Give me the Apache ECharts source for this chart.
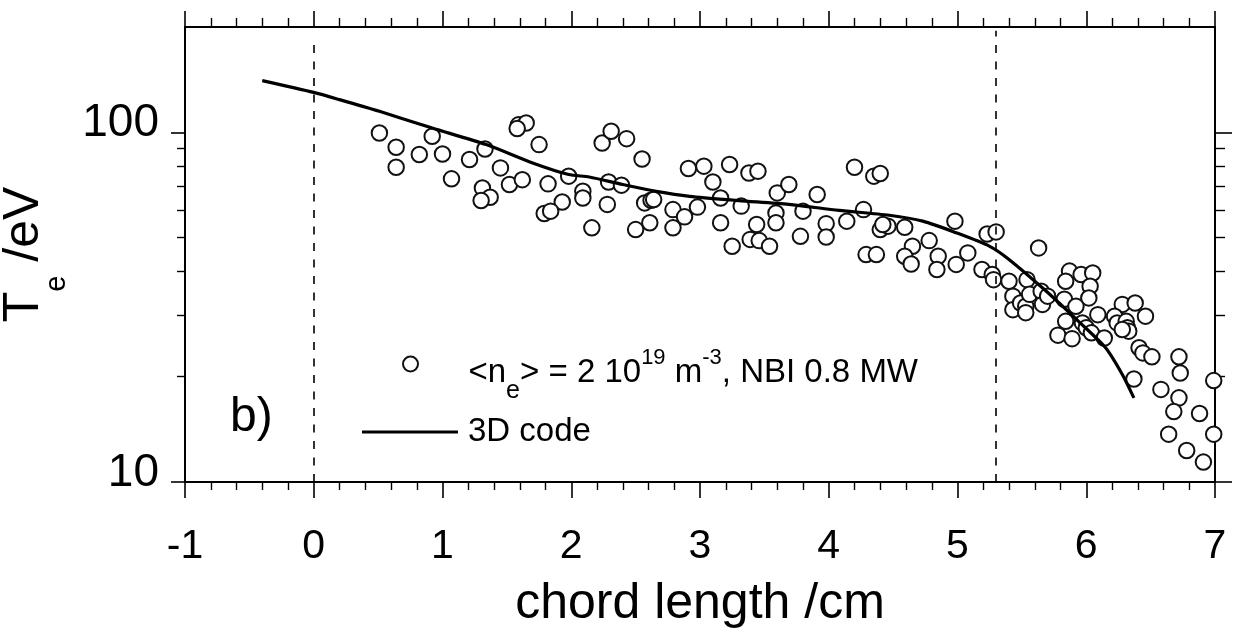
<!DOCTYPE html>
<html><head><meta charset="utf-8">
<script src="https://cdn.jsdelivr.net/npm/echarts@6/dist/echarts.min.js"></script>
<style>html,body{margin:0;padding:0;background:#fff}#c{width:1240px;height:643px}</style>
</head><body><div id="c"></div>
<script>
// ---- data ----
const xTickValues = [-1, 0, 1, 2, 3, 4, 5, 6, 7];
const yMajorTicks = [10, 100];
const yMinorTicks = [20, 30, 40, 50, 60, 70, 80, 90];
const measX = [0.51,0.64,0.64,0.82,0.92,1.00,1.07,1.21,1.33,1.45,1.31,1.37,1.30,1.52,1.62,1.59,1.65,1.58,1.75,1.82,1.98,1.93,1.79,1.84,2.09,2.09,2.16,
 2.24,2.31,2.43,2.55,2.29,2.39,2.28,2.57,2.62,2.64,2.50,2.61,2.79,2.79,2.88,2.91,3.03,3.10,2.98,3.16,3.16,3.23,3.25,3.32,3.38,3.45,3.60,3.69,3.59,3.59,3.44,3.39,3.46,3.54,3.78,3.80,3.91,3.98,3.98,4.14,4.20,4.27,4.35,4.40,4.40,4.46,4.42,4.29,4.37,4.59,4.65,4.59,4.64,4.78,4.85,4.84,4.98,4.99,5.08,5.23,5.30,5.19,5.27,5.28,
 5.40,5.54,5.63,5.43,5.43,5.49,5.53,5.53,5.56,5.65,5.66,5.70,5.87,5.84,5.96,6.05,6.03,6.02,5.83,5.92,5.84,5.78,5.89,5.97,6.00,6.04,6.09,6.14,6.28,6.22,6.24,6.31,6.32,6.33,6.38,6.46,6.28,6.41,6.44,6.51,6.37,6.58,6.72,6.73,6.72,6.68,6.64,6.78,6.88,6.91,6.99,6.99];
const measY = [99.5,90.6,79.4,86.4,97.4,86.7,73.6,83.6,89.6,79.1,69.3,65.2,63.8,70.9,73.2,105,106.3,102.5,92.2,71.2,74.9,63.2,58.6,59.5,67.8,64.9,53.3,
 93.2,100.7,95.9,83.9,72.1,70.6,62.2,62.8,63.9,64.2,52.7,55.1,60.1,53.3,57.3,78.8,80.0,72.1,61.1,64.9,55.1,80.9,47.2,61.5,76.5,77.4,67.1,70.9,58.8,55.1,54.5,49.4,49.0,47.2,50.4,59.5,66.4,54.8,50.2,55.7,79.4,60.1,74.9,76.2,52.7,53.9,54.5,44.7,44.7,53.5,47.2,44.2,42.0,49.0,44.2,40.5,55.7,41.9,45.2,51.2,51.9,40.5,39.2,37.9,
 37.5,37.9,46.7,34.0,31.1,32.5,31.8,30.5,34.4,35.1,32.2,34.0,40.1,37.5,39.2,39.6,36.3,33.6,33.3,31.8,28.8,26.3,25.7,28.5,27.6,26.7,30.1,25.8,32.2,29.8,28.5,28.8,27.6,27.0,32.5,29.8,27.3,24.2,23.4,22.8,19.7,18.4,22.8,20.5,17.4,15.9,13.7,12.3,15.7,11.4,19.5,13.7];
const codeX = [-0.40,0.00,0.20,0.51,0.92,1.34,1.70,1.98,2.14,2.40,2.66,2.92,3.30,3.69,4.08,4.47,4.73,4.99,5.25,5.40,5.69,5.94,6.15,6.28,6.37];
const codeY = [140.5,130,124,114.8,102.8,92.2,81.7,75.7,74.5,70.9,67.8,65.6,63.8,62.2,59.8,57.9,55.7,51.6,47.2,43.3,35.1,28.8,24.2,20.3,17.4];
const dashedX = [0, 5.3];
const dashedTop = [185, 195];

const FONT = 'Liberation Sans, Arial, Helvetica, sans-serif';
const measData = measX.map((x, i) => [x, measY[i]]);
const codeData = codeX.map((x, i) => [x, codeY[i]]);

const chart = echarts.init(document.getElementById('c'), null, {renderer: 'canvas'});

const xBase = {
  type: 'value', min: -1, max: 7, interval: 1,
  axisLine: {show: true, onZero: false, lineStyle: {color: '#000', width: 2}},
  splitLine: {show: false},
  minorSplitLine: {show: false}
};
const yBase = {
  type: 'log', logBase: 10, min: 10, max: 200,
  splitLine: {show: false}, minorSplitLine: {show: false}
};

chart.setOption({
  animation: false,
  backgroundColor: '#fff',
  textStyle: {fontFamily: FONT, color: '#000'},
  grid: {left: 185, right: 25, top: 27, bottom: 161, containLabel: false, outerBoundsMode: 'none'},
  title: {
    text: 'b)', left: 230, top: 394, padding: 0,
    textStyle: {fontFamily: FONT, fontSize: 48, fontWeight: 'normal', color: '#000'}
  },
  legend: [
    {
      data: [{name: 'meas', icon: 'emptyCircle'}], left: 402, top: 347, padding: 0,
      itemWidth: 106, itemHeight: 15, selectedMode: false,
      itemStyle: {color: '#111', borderColor: '#111', borderWidth: 1.5},
      formatter: () => '{m|<n}{s|e}{m|> = 2 10}{p|19}{m| m}{p|-3}{m|, NBI 0.8 MW}',
      textStyle: {
        fontFamily: FONT, color: '#000',
        rich: {
          m: {fontFamily: FONT, fontSize: 33, padding: [18, 0, 0, 0], color: '#000'},
          s: {fontFamily: FONT, fontSize: 25, padding: [54, 0, 0, 0], color: '#000'},
          p: {fontFamily: FONT, fontSize: 22, padding: [0, 0, 12, 0], color: '#000'}
        }
      }
    },
    {
      data: [{name: '3D code', icon: 'rect'}], left: 362, top: 415, padding: 0,
      itemWidth: 96, itemHeight: 3, selectedMode: false,
      itemStyle: {color: '#000', borderWidth: 0},
      textStyle: {fontFamily: FONT, fontSize: 33, lineHeight: 34, color: '#000', padding: [0, 0, 0, 5]}
    }
  ],
  xAxis: [
    Object.assign({}, xBase, {
      position: 'bottom',
      name: 'chord length /cm', nameLocation: 'middle', nameGap: 97,
      nameTextStyle: {fontFamily: FONT, fontSize: 50, color: '#000'},
      axisTick: {show: true, inside: false, length: 16, lineStyle: {color: '#000', width: 1.6}},
      minorTick: {show: true, splitNumber: 5, length: 8, lineStyle: {color: '#000', width: 1.4}},
      axisLabel: {show: true, fontFamily: FONT, fontSize: 41, color: '#000', margin: 44,
        formatter: v => xTickValues.includes(v) ? String(v) : ''}
    }),
    Object.assign({}, xBase, {
      position: 'top',
      axisTick: {show: true, inside: false, length: 16, lineStyle: {color: '#000', width: 1.6}},
      minorTick: {show: true, splitNumber: 5, length: 9, lineStyle: {color: '#000', width: 1.4}},
      axisLabel: {show: false}
    })
  ],
  yAxis: [
    Object.assign({}, yBase, {
      position: 'left',
      name: '{t|T}{e|e}{t| /eV}', nameLocation: 'middle', nameGap: 95,
      nameTextStyle: {
        fontFamily: FONT, color: '#000',
        rich: {
          t: {fontFamily: FONT, fontSize: 50, color: '#000'},
          e: {fontFamily: FONT, fontSize: 29, padding: [66, 0, 0, 0], color: '#000'}
        }
      },
      axisLine: {show: true, onZero: false, lineStyle: {color: '#000', width: 2}},
      axisTick: {show: true, inside: false, length: 14, customValues: yMajorTicks, lineStyle: {color: '#000', width: 1.6}},
      axisLabel: {show: true, fontFamily: FONT, fontSize: 46, color: '#000', margin: 26,
        customValues: yMajorTicks, verticalAlign: 'bottom', lineHeight: 18}
    }),
    Object.assign({}, yBase, {
      position: 'left',
      axisLine: {show: false, onZero: false},
      axisTick: {show: true, inside: false, length: 8, customValues: yMinorTicks, lineStyle: {color: '#000', width: 1.4}},
      axisLabel: {show: false}
    }),
    Object.assign({}, yBase, {
      position: 'right',
      axisLine: {show: true, onZero: false, lineStyle: {color: '#000', width: 2}},
      axisTick: {show: true, inside: false, length: 17, customValues: yMajorTicks, lineStyle: {color: '#000', width: 1.6}},
      axisLabel: {show: false}
    }),
    Object.assign({}, yBase, {
      position: 'right',
      axisLine: {show: false, onZero: false},
      axisTick: {show: true, inside: false, length: 10, customValues: yMinorTicks, lineStyle: {color: '#000', width: 1.4}},
      axisLabel: {show: false}
    })
  ],
  series: [
    {
      name: 'meas', type: 'scatter', xAxisIndex: 0, yAxisIndex: 0,
      data: measData, symbol: 'emptyCircle', symbolSize: 15.5,
      itemStyle: {color: '#111', borderColor: '#111', borderWidth: 1.7, opacity: 1},
      emphasis: {disabled: true}, z: 3
    },
    {
      name: '3D code', type: 'line', xAxisIndex: 0, yAxisIndex: 0,
      data: codeData, showSymbol: false, symbol: 'none', smooth: 0.25,
      lineStyle: {color: '#000', width: 3.2}, itemStyle: {color: '#000'},
      emphasis: {disabled: true}, z: 4,
      markLine: {
        silent: true, symbol: ['none', 'none'], label: {show: false},
        lineStyle: {color: '#000', width: 1.6, type: [8, 8.5]},
        data: dashedX.map((x, i) => [{coord: [x, 10]}, {coord: [x, dashedTop[i]]}])
      }
    }
  ]
});
</script>
</body></html>
